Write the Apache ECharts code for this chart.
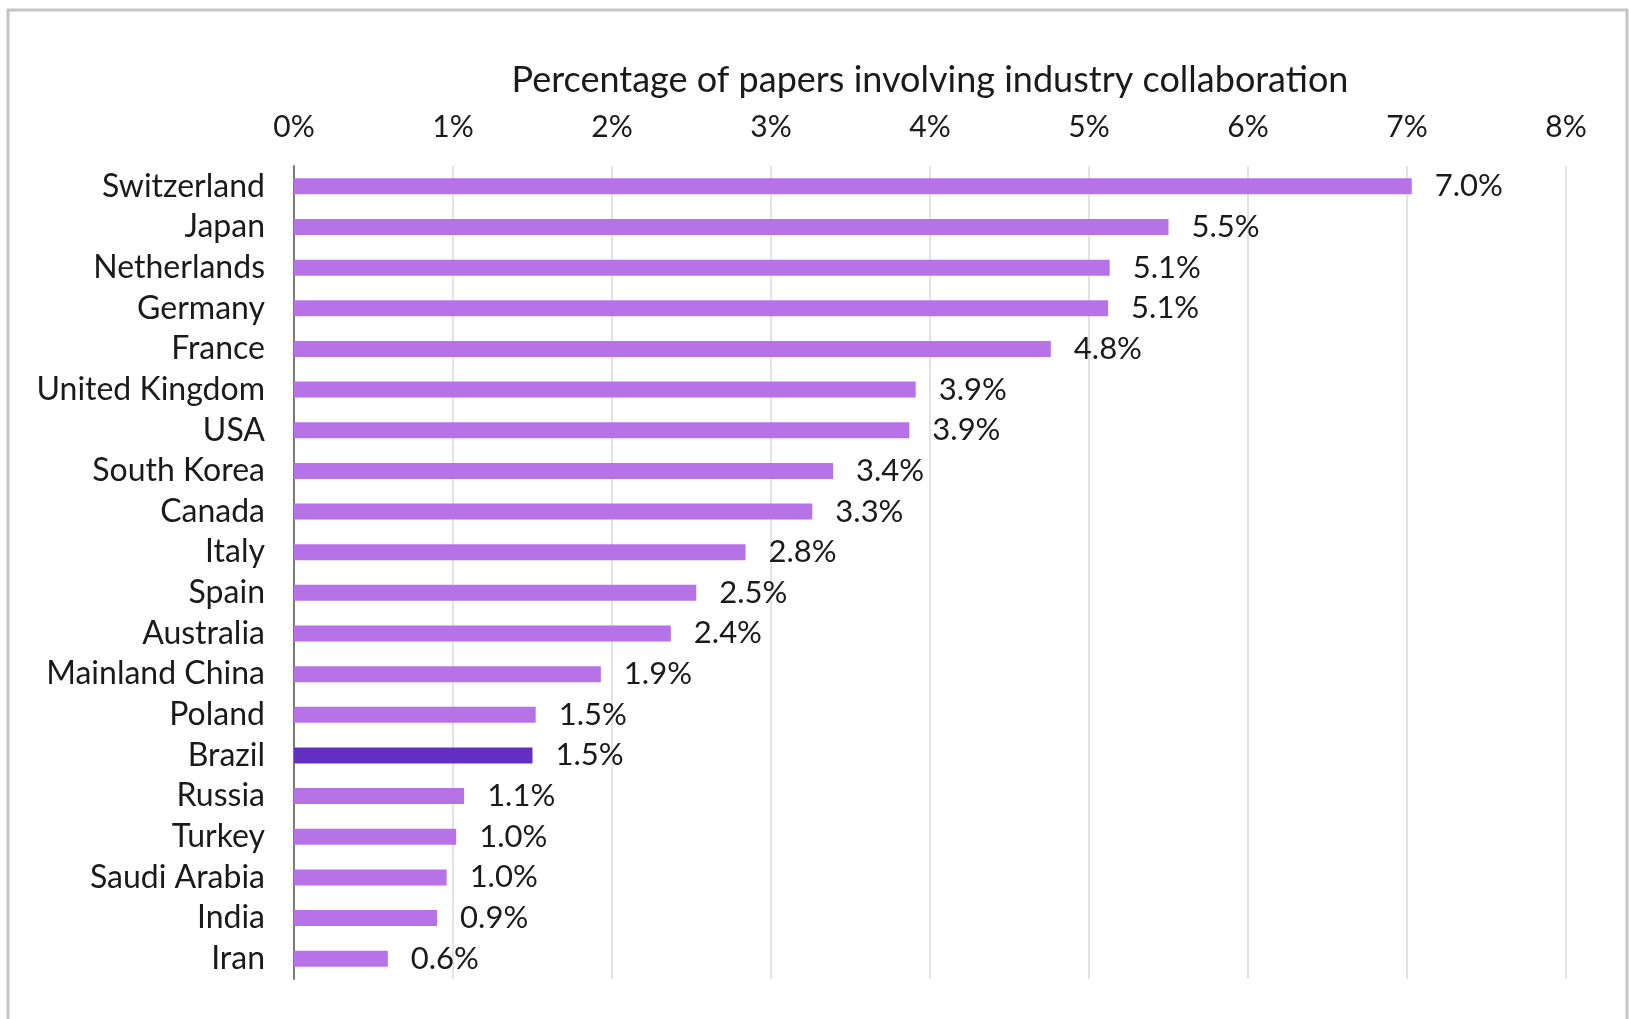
<!DOCTYPE html>
<html>
<head>
<meta charset="utf-8">
<script src="https://cdn.jsdelivr.net/npm/echarts@6/dist/echarts.min.js"></script>
<style>
    html, body { margin: 0; padding: 0; background: #fff; }
    #chart { width: 1629px; height: 1019px; }
</style>
</head>
<body>
<div id="chart"></div>
<script>
    // countries, top to bottom
    const countries = ['Switzerland', 'Japan', 'Netherlands', 'Germany', 'France', 'United Kingdom', 'USA',
        'South Korea', 'Canada', 'Italy', 'Spain', 'Australia', 'Mainland China', 'Poland', 'Brazil',
        'Russia', 'Turkey', 'Saudi Arabia', 'India', 'Iran']
    // percentage of papers involving industry collaboration
    const shares = [7.03, 5.50, 5.13, 5.12, 4.76, 3.91, 3.87, 3.39, 3.26, 2.84, 2.53, 2.37, 1.93, 1.52, 1.50,
        1.07, 1.02, 0.96, 0.90, 0.59]
    const highlight = 'Brazil'

    const font = 'Lato'
    let myChart = echarts.init(document.getElementById('chart'))

    let options = {
        animation: false,
        graphic: [{
            type: 'rect',
            shape: { x: 8, y: 10, width: 1619, height: 1020 },
            style: { fill: 'none', stroke: '#c4c4c4', lineWidth: 3 }
        }],
        grid: {
            left: 294,
            right: 63,
            top: 166,
            bottom: 40
        },
        xAxis: {
            type: 'value',
            position: 'top',
            min: 0,
            max: 8,
            interval: 1,
            name: 'Percentage of papers involving industry collaboration',
            nameLocation: 'middle',
            nameGap: 68,
            nameTextStyle: { fontFamily: font, fontSize: 36, color: '#1a1a1a' },
            axisLine: { show: false },
            axisTick: { show: false },
            axisLabel: {
                formatter: '{value}%',
                margin: 24,
                fontFamily: font,
                fontSize: 30,
                color: '#1a1a1a'
            },
            splitLine: { lineStyle: { color: '#e3e3e3', width: 2 } }
        },
        yAxis: {
            type: 'category',
            inverse: true,
            data: countries,
            axisLine: { lineStyle: { color: '#7a7a7a', width: 2 } },
            axisTick: { show: false },
            axisLabel: {
                interval: 0,
                margin: 29,
                fontFamily: font,
                fontSize: 32,
                color: '#1a1a1a'
            }
        },
        series: [{
            type: 'bar',
            barWidth: 16,
            data: shares.map((v, i) => ({
                value: v,
                itemStyle: { color: countries[i] === highlight ? '#6331c1' : '#b872e8' }
            })),
            label: {
                show: true,
                position: 'right',
                distance: 23,
                formatter: p => p.value.toFixed(1) + '%',
                fontFamily: font,
                fontSize: 31,
                color: '#1a1a1a'
            }
        }]
    }
    myChart.setOption(options)
</script>
</body>
</html>
